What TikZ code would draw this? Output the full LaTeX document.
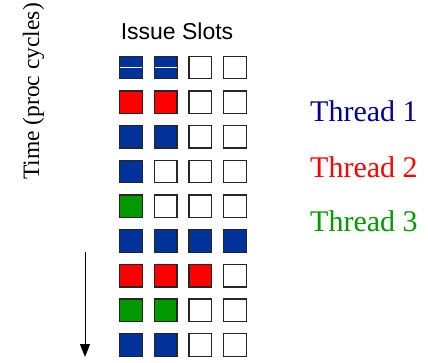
\documentclass[tikz,border=0pt]{standalone}
\usepackage{fontspec}
\setmainfont{Liberation Serif}
\newfontfamily\slotfont{Liberation Sans}
\usetikzlibrary{arrows.meta}

\definecolor{tblue}{RGB}{0,51,153}
\definecolor{tred}{RGB}{255,0,0}
\definecolor{tgreen}{RGB}{0,153,0}
\definecolor{tnavy}{RGB}{0,0,153}

\tikzset{
  slot/.style={draw=black!85, line width=1.3pt, minimum size=22.5pt, inner sep=0pt, fill=#1},
  slot/.default=white,
  threadlabel/.style={font=\fontsize{30}{30}\selectfont, anchor=base west, inner sep=0pt}
}

\begin{document}
\begin{tikzpicture}[x=1pt, y=-1pt]
    \useasboundingbox (0,0) rectangle (428,363);

    % Header and time axis
    \node[font=\slotfont\fontsize{23}{23}\selectfont, anchor=base, inner sep=0pt] (slots) at (177,40) {Issue Slots};
    \node[font=\fontsize{23.5}{23.5}\selectfont, rotate=90, anchor=base west, inner sep=0pt] (time) at (39,180) {Time (proc cycles)};

    % Issue slots, one row per cycle
    \foreach \row/\cols in {1/{tblue,tblue,white,white}, 2/{tred,tred,white,white},
        3/{tblue,tblue,white,white}, 4/{tblue,white,white,white}, 5/{tgreen,white,white,white},
        6/{tblue,tblue,tblue,tblue}, 7/{tred,tred,tred,white}, 8/{tgreen,tgreen,white,white},
        9/{tblue,tblue,white,white}} {
      \foreach \c [count=\col] in \cols {
        \node[slot=\c] (s-\row-\col) at ({131+34.67*(\col-1)}, {67.5+34.69*(\row-1)}) {};
      }
    }
    \draw[white, line width=0.8pt] ([xshift=1pt]s-1-1.west) -- ([xshift=-1pt]s-1-1.east);
    \draw[white, line width=0.8pt] ([xshift=1pt]s-1-2.west) -- ([xshift=-1pt]s-1-2.east);

    % Time arrow
    \coordinate (tstart) at (85,252);
    \coordinate (tend) at (85,357);
    \draw[-{Triangle[width=10pt,length=13pt]}, line width=1pt] (tstart) -- (tend);

    % Thread legend
    \node[threadlabel, text=tnavy] (th1) at (310,122) {Thread 1};
    \node[threadlabel, text=tred] (th2) at (310,177.5) {Thread 2};
    \node[threadlabel, text=tgreen] (th3) at (310,232) {Thread 3};
\end{tikzpicture}
\end{document}
